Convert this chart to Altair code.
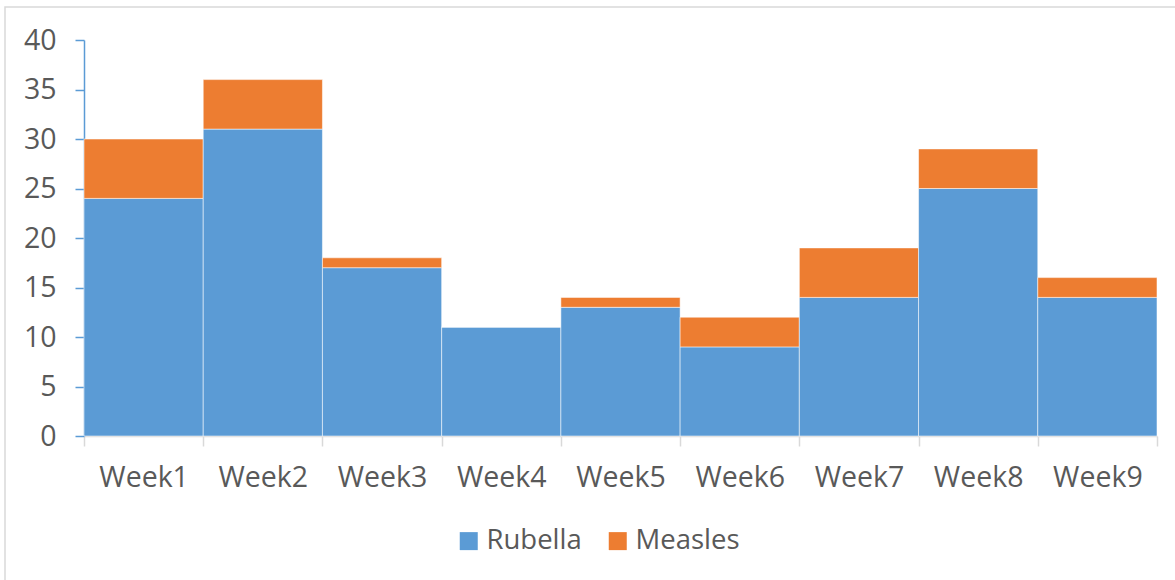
import altair as alt
import pandas as pd

# Weekly case counts
weeks = ["Week1", "Week2", "Week3", "Week4", "Week5", "Week6", "Week7", "Week8", "Week9"]
rubella = [24, 31, 17, 11, 13, 9, 14, 25, 14]
measles = [6, 5, 1, 0, 1, 3, 5, 4, 2]
diseases = ["Rubella", "Measles"]
colors = ["#5B9BD5", "#ED7D31"]
y_ticks = [0, 5, 10, 15, 20, 25, 30, 35, 40]

rows = []
for w, r, m in zip(weeks, rubella, measles):
    rows.append({"week": w, "disease": "Rubella", "cases": r, "rank": 0})
    rows.append({"week": w, "disease": "Measles", "cases": m, "rank": 1})
df = pd.DataFrame(rows)

FONT = "Open Sans"
TEXT = "#595959"

bars = alt.Chart(df).mark_bar(stroke="white", strokeWidth=0.75, strokeOpacity=0.7).encode(
    x=alt.X(
        "week:N",
        sort=weeks,
        title=None,
        scale=alt.Scale(paddingInner=0, paddingOuter=0),
        axis=alt.Axis(
            labelAngle=0,
            tickBand="extent",
            domainColor="#D9D9D9",
            tickColor="#D9D9D9",
            domainWidth=1.5,
            tickWidth=1.5,
            tickSize=10,
            labelPadding=17,
            labelFontSize=28.5,
            labelColor=TEXT,
            labelFont=FONT,
            grid=False,
        ),
    ),
    y=alt.Y(
        "cases:Q",
        stack="zero",
        title=None,
        scale=alt.Scale(domain=[0, 40], nice=False),
        axis=alt.Axis(
            values=y_ticks,
            domainColor="#5B9BD5",
            tickColor="#5B9BD5",
            domainWidth=1.5,
            tickWidth=1.5,
            tickSize=9,
            labelPadding=19,
            labelFontSize=28.5,
            labelColor=TEXT,
            labelFont=FONT,
            grid=False,
        ),
    ),
    color=alt.Color(
        "disease:N",
        scale=alt.Scale(domain=diseases, range=colors),
        legend=alt.Legend(
            title=None,
            orient="none",
            direction="horizontal",
            legendX=371,
            legendY=487,
            symbolType="square",
            symbolSize=324,
            symbolStrokeWidth=0,
            labelFontSize=27.5,
            labelColor=TEXT,
            labelFont=FONT,
            columnPadding=22,
            labelOffset=4,
        ),
    ),
    order=alt.Order("rank:Q", sort="ascending"),
)

# light outer frame of the chart
frame = alt.Chart(pd.DataFrame({"f": [0]})).mark_rect(
    fill=None, stroke="#D9D9D9", strokeWidth=1.5, clip=False
).encode(
    x=alt.value(-79), x2=alt.value(1200), y=alt.value(-33), y2=alt.value(600)
)

chart = alt.layer(frame, bars).properties(
    width=1073,
    height=396,
    autosize=alt.AutoSizeParams(type="none"),
    padding={"left": 84, "top": 40, "right": 18, "bottom": 144},
).configure(background="white").configure_view(stroke=None)

chart.save("out.html", embed_options={"renderer": "svg", "actions": False})
